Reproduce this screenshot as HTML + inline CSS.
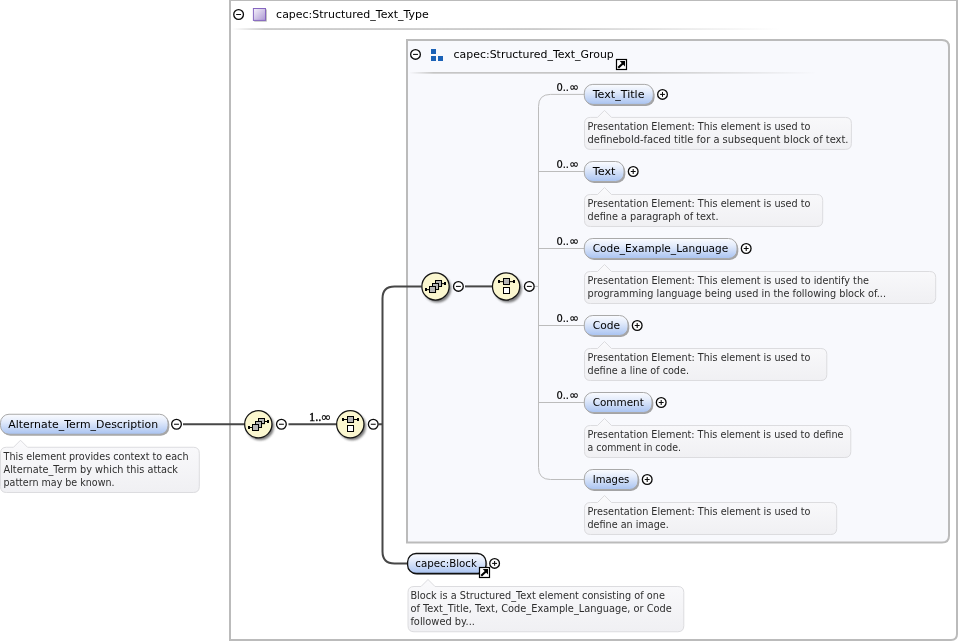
<!DOCTYPE html>
<html><head><meta charset="utf-8"><title>Alternate_Term_Description</title>
<style>html,body{margin:0;padding:0;background:#fff}svg{display:block;will-change:transform}text{white-space:pre}</style>
</head><body>
<svg width="959" height="642" viewBox="0 0 959 642">
<defs>
<linearGradient id="pg" x1="0" y1="0" x2="0" y2="1"><stop offset="0" stop-color="#fbfcff"/><stop offset="0.35" stop-color="#e4ecfb"/><stop offset="1" stop-color="#a9c3f1"/></linearGradient>
<linearGradient id="ag" x1="0" y1="0" x2="0" y2="1"><stop offset="0" stop-color="#fafafc"/><stop offset="1" stop-color="#f0f0f3"/></linearGradient>
<linearGradient id="pu" x1="0" y1="0" x2="1" y2="1"><stop offset="0" stop-color="#f6f3fb"/><stop offset="1" stop-color="#ab97d3"/></linearGradient>
<linearGradient id="s1" x1="0" y1="0" x2="1" y2="0"><stop offset="0" stop-color="#c6c6c6" stop-opacity="0"/><stop offset="0.06" stop-color="#c6c6c6"/><stop offset="0.55" stop-color="#c6c6c6"/><stop offset="1" stop-color="#c6c6c6" stop-opacity="0"/></linearGradient>
<filter id="bs" x="-30%" y="-30%" width="160%" height="160%"><feGaussianBlur stdDeviation="0.7"/></filter>
<filter id="bl" x="-30%" y="-30%" width="160%" height="160%"><feGaussianBlur stdDeviation="1.1"/></filter>
</defs>
<rect width="959" height="642" fill="#fff"/>
<path d="M230 0H957V634Q957 640 951 640H230Z" fill="#fff" stroke="#bbbbbb" stroke-width="2"/>
<circle cx="238.6" cy="14.5" r="4.85" fill="#fff" stroke="#0a0a0a" stroke-width="1.3"/>
<path d="M236.15 14.5H241.04999999999998" stroke="#0a0a0a" stroke-width="1.05"/>
<rect x="254.2" y="9.4" width="12.6" height="12.2" fill="#b4b4b4"/>
<rect x="253.4" y="8.5" width="12.1" height="11.9" fill="url(#pu)" stroke="#8666c0" stroke-width="1"/>
<text x="276.1" y="18" font-family="'DejaVu Sans', 'Liberation Sans', sans-serif" font-size="11" fill="#000" textLength="152.6" lengthAdjust="spacingAndGlyphs">capec:Structured_Text_Type</text>
<rect x="232" y="28.2" width="548" height="1.7" fill="url(#s1)"/>
<path d="M407 40H942Q949 40 949 47V535.5Q949 542.5 942 542.5H407Z" fill="#f8f9fd" stroke="#bbbbbb" stroke-width="2"/>
<circle cx="415.5" cy="54.4" r="4.85" fill="#fff" stroke="#0a0a0a" stroke-width="1.3"/>
<path d="M413.05 54.4H417.95" stroke="#0a0a0a" stroke-width="1.05"/>
<rect x="431" y="49" width="5" height="5" fill="#1b62b7"/>
<rect x="431" y="56" width="5" height="5" fill="#1b62b7"/>
<rect x="438" y="56" width="5" height="5" fill="#1b62b7"/>
<text x="453.6" y="58" font-family="'DejaVu Sans', 'Liberation Sans', sans-serif" font-size="11" fill="#000" textLength="160.2" lengthAdjust="spacingAndGlyphs">capec:Structured_Text_Group</text>
<rect x="616.5" y="59.5" width="10" height="10" fill="#fff" stroke="#000" stroke-width="1.2"/>
<path d="M619.7 61.1H625V66.4Z" fill="#000"/>
<path d="M619.0 67.0L623.4 62.9" stroke="#000" stroke-width="2.1" stroke-linecap="square"/>
<rect x="409" y="72" width="408" height="1.7" fill="url(#s1)"/>
<path d="M183 424.25H244.5M288.5 424.25H337M378.5 424.25H382.5" stroke="#474747" stroke-width="2" fill="none"/>
<path d="M421.5 286.4H394.5Q382.5 286.4 382.5 298.4V551.5Q382.5 563.5 394.5 563.5H407.5" stroke="#474747" stroke-width="2" fill="none"/>
<path d="M465 286.4H492.5" stroke="#474747" stroke-width="2" fill="none"/>
<path d="M534.5 286.4H538.5" stroke="#bcbcbc" stroke-width="1" fill="none"/>
<path d="M584.5 94.4H550.5Q538.5 94.4 538.5 106.4V467.5Q538.5 479.5 550.5 479.5H584.5" stroke="#bcbcbc" stroke-width="1" fill="none"/>
<path d="M538.5 171.5H584.5" stroke="#bcbcbc" stroke-width="1" fill="none"/>
<path d="M538.5 248.5H584.5" stroke="#bcbcbc" stroke-width="1" fill="none"/>
<path d="M538.5 325.5H584.5" stroke="#bcbcbc" stroke-width="1" fill="none"/>
<path d="M538.5 402.5H584.5" stroke="#bcbcbc" stroke-width="1" fill="none"/>
<rect x="1.8" y="415.85" width="167.5" height="20" rx="8.5" fill="#707070" opacity="0.62" filter="url(#bs)"/>
<rect x="0.5" y="414.25" width="167.5" height="20" rx="8.5" fill="url(#pg)" stroke="#a9a9a9" stroke-width="1"/>
<text x="8.3" y="427.95" font-family="'DejaVu Sans', 'Liberation Sans', sans-serif" font-size="11" fill="#000" textLength="149.9" lengthAdjust="spacingAndGlyphs">Alternate_Term_Description</text>
<circle cx="176.5" cy="424.25" r="4.85" fill="#fff" stroke="#0a0a0a" stroke-width="1.3"/>
<path d="M174.05 424.25H178.95" stroke="#0a0a0a" stroke-width="1.05"/>
<path d="M6.5 447.25H13.5L20.5 440.25L27.5 447.25H193.3Q199.3 447.25 199.3 453.25V486.5Q199.3 492.5 193.3 492.5H6.5Q0.5 492.5 0.5 486.5V453.25Q0.5 447.25 6.5 447.25Z" fill="url(#ag)" stroke="#dcdcdf" stroke-width="1"/>
<text x="3.5" y="460.05" font-family="'DejaVu Sans', 'Liberation Sans', sans-serif" font-size="10" fill="#2e2e2e" textLength="185" lengthAdjust="spacingAndGlyphs">This element provides context to each</text>
<text x="3.5" y="473.05" font-family="'DejaVu Sans', 'Liberation Sans', sans-serif" font-size="10" fill="#2e2e2e" textLength="174.5" lengthAdjust="spacingAndGlyphs">Alternate_Term by which this attack</text>
<text x="3.5" y="486.05" font-family="'DejaVu Sans', 'Liberation Sans', sans-serif" font-size="10" fill="#2e2e2e" textLength="111" lengthAdjust="spacingAndGlyphs">pattern may be known.</text>
<circle cx="260.1" cy="426.45" r="13.9" fill="#4a4a4a" opacity="0.72" filter="url(#bl)"/>
<circle cx="258.3" cy="424.25" r="13.65" fill="#fbf7cf" stroke="#141414" stroke-width="1.25"/>
<path d="M249.70 427.50H253.30M264.30 421.50H267.30" stroke="#000" stroke-width="1"/>
<rect x="248.10" y="426.30" width="2" height="2.6" fill="#000" shape-rendering="crispEdges"/>
<rect x="267.20" y="420.20" width="2" height="2.6" fill="#000" shape-rendering="crispEdges"/>
<rect x="259.45" y="419.45" width="5.6" height="5.4" fill="#8a8a6a" opacity="0.35"/>
<rect x="258.65" y="418.55" width="5.6" height="5.4" fill="#b6b6b6" stroke="#000" stroke-width="1" shape-rendering="crispEdges"/>
<rect x="256.50" y="422.60" width="5.6" height="5.4" fill="#8a8a6a" opacity="0.35"/>
<rect x="255.70" y="421.70" width="5.6" height="5.4" fill="#b6b6b6" stroke="#000" stroke-width="1" shape-rendering="crispEdges"/>
<rect x="253.50" y="425.70" width="5.6" height="5.4" fill="#8a8a6a" opacity="0.35"/>
<rect x="252.70" y="424.80" width="5.6" height="5.4" fill="#b6b6b6" stroke="#000" stroke-width="1" shape-rendering="crispEdges"/>
<circle cx="281.4" cy="424.25" r="4.85" fill="#fff" stroke="#0a0a0a" stroke-width="1.3"/>
<path d="M278.95 424.25H283.84999999999997" stroke="#0a0a0a" stroke-width="1.05"/>
<text x="309" y="421" font-family="'Liberation Serif', serif" font-size="12" fill="#000" stroke="#000" stroke-width="0.3" textLength="21.3" lengthAdjust="spacingAndGlyphs">1..∞</text>
<circle cx="352.1" cy="426.45" r="13.9" fill="#4a4a4a" opacity="0.72" filter="url(#bl)"/>
<circle cx="350.3" cy="424.25" r="13.65" fill="#fbf7cf" stroke="#141414" stroke-width="1.25"/>
<path d="M343.30 419.50H357.30" stroke="#000" stroke-width="1"/>
<rect x="342.10" y="418.20" width="2" height="2.6" fill="#000" shape-rendering="crispEdges"/>
<rect x="357.10" y="418.20" width="2" height="2.6" fill="#000" shape-rendering="crispEdges"/>
<rect x="348.45" y="417.70" width="5.75" height="5.35" fill="#8a8a6a" opacity="0.35"/>
<rect x="347.65" y="416.80" width="5.75" height="5.35" fill="#b6b6b6" stroke="#000" stroke-width="1" shape-rendering="crispEdges"/>
<rect x="348.45" y="426.55" width="5.75" height="5.35" fill="#8a8a6a" opacity="0.35"/>
<rect x="347.65" y="425.65" width="5.75" height="5.35" fill="#fff" stroke="#000" stroke-width="1" shape-rendering="crispEdges"/>
<circle cx="373.25" cy="424.25" r="4.85" fill="#fff" stroke="#0a0a0a" stroke-width="1.3"/>
<path d="M370.8 424.25H375.7" stroke="#0a0a0a" stroke-width="1.05"/>
<circle cx="437.3" cy="288.59999999999997" r="13.9" fill="#4a4a4a" opacity="0.72" filter="url(#bl)"/>
<circle cx="435.5" cy="286.4" r="13.65" fill="#fbf7cf" stroke="#141414" stroke-width="1.25"/>
<path d="M426.90 289.65H430.50M441.50 283.65H444.50" stroke="#000" stroke-width="1"/>
<rect x="425.30" y="288.45" width="2" height="2.6" fill="#000" shape-rendering="crispEdges"/>
<rect x="444.40" y="282.35" width="2" height="2.6" fill="#000" shape-rendering="crispEdges"/>
<rect x="436.65" y="281.60" width="5.6" height="5.4" fill="#8a8a6a" opacity="0.35"/>
<rect x="435.85" y="280.70" width="5.6" height="5.4" fill="#b6b6b6" stroke="#000" stroke-width="1" shape-rendering="crispEdges"/>
<rect x="433.70" y="284.75" width="5.6" height="5.4" fill="#8a8a6a" opacity="0.35"/>
<rect x="432.90" y="283.85" width="5.6" height="5.4" fill="#b6b6b6" stroke="#000" stroke-width="1" shape-rendering="crispEdges"/>
<rect x="430.70" y="287.85" width="5.6" height="5.4" fill="#8a8a6a" opacity="0.35"/>
<rect x="429.90" y="286.95" width="5.6" height="5.4" fill="#b6b6b6" stroke="#000" stroke-width="1" shape-rendering="crispEdges"/>
<circle cx="458.4" cy="286.4" r="4.85" fill="#fff" stroke="#0a0a0a" stroke-width="1.3"/>
<path d="M455.95 286.4H460.84999999999997" stroke="#0a0a0a" stroke-width="1.05"/>
<circle cx="507.90000000000003" cy="288.59999999999997" r="13.9" fill="#4a4a4a" opacity="0.72" filter="url(#bl)"/>
<circle cx="506.1" cy="286.4" r="13.65" fill="#fbf7cf" stroke="#141414" stroke-width="1.25"/>
<path d="M499.10 281.65H513.10" stroke="#000" stroke-width="1"/>
<rect x="497.90" y="280.35" width="2" height="2.6" fill="#000" shape-rendering="crispEdges"/>
<rect x="512.90" y="280.35" width="2" height="2.6" fill="#000" shape-rendering="crispEdges"/>
<rect x="504.25" y="279.85" width="5.75" height="5.35" fill="#8a8a6a" opacity="0.35"/>
<rect x="503.45" y="278.95" width="5.75" height="5.35" fill="#b6b6b6" stroke="#000" stroke-width="1" shape-rendering="crispEdges"/>
<rect x="504.25" y="288.70" width="5.75" height="5.35" fill="#8a8a6a" opacity="0.35"/>
<rect x="503.45" y="287.80" width="5.75" height="5.35" fill="#fff" stroke="#000" stroke-width="1" shape-rendering="crispEdges"/>
<circle cx="529.3" cy="286.4" r="4.85" fill="#fff" stroke="#0a0a0a" stroke-width="1.3"/>
<path d="M526.8499999999999 286.4H531.75" stroke="#0a0a0a" stroke-width="1.05"/>
<rect x="585.5999999999999" y="86.0" width="69.0" height="20" rx="8.5" fill="#707070" opacity="0.62" filter="url(#bs)"/>
<rect x="584.3" y="84.4" width="69.0" height="20" rx="8.5" fill="url(#pg)" stroke="#a9a9a9" stroke-width="1"/>
<text x="592.7" y="98.10000000000001" font-family="'DejaVu Sans', 'Liberation Sans', sans-serif" font-size="11" fill="#000" textLength="51.8" lengthAdjust="spacingAndGlyphs">Text_Title</text>
<circle cx="662.5" cy="94.4" r="4.85" fill="#fff" stroke="#0a0a0a" stroke-width="1.3"/>
<path d="M660.05 94.4H664.95" stroke="#0a0a0a" stroke-width="1.05"/>
<path d="M662.5 91.95V96.85000000000001" stroke="#0a0a0a" stroke-width="1.05"/>
<text x="556.4" y="90.80000000000001" font-family="'DejaVu Sans', 'Liberation Sans', sans-serif" font-size="11" fill="#000" stroke="#000" stroke-width="0.2"><tspan textLength="12.6" lengthAdjust="spacingAndGlyphs">0..</tspan><tspan x="569.3" font-size="11.5" textLength="9.4" lengthAdjust="spacingAndGlyphs">∞</tspan></text>
<path d="M590.5 117.4H597.5L604.5 110.4L611.5 117.4H845.4Q851.4 117.4 851.4 123.4V143.4Q851.4 149.4 845.4 149.4H590.5Q584.5 149.4 584.5 143.4V123.4Q584.5 117.4 590.5 117.4Z" fill="url(#ag)" stroke="#dcdcdf" stroke-width="1"/>
<text x="587.5" y="129.6" font-family="'DejaVu Sans', 'Liberation Sans', sans-serif" font-size="10" fill="#2e2e2e" textLength="223" lengthAdjust="spacingAndGlyphs">Presentation Element: This element is used to</text>
<text x="587.5" y="142.6" font-family="'DejaVu Sans', 'Liberation Sans', sans-serif" font-size="10" fill="#2e2e2e" textLength="261" lengthAdjust="spacingAndGlyphs">definebold-faced title for a subsequent block of text.</text>
<rect x="585.5999999999999" y="163.1" width="39.700000000000045" height="20" rx="8.5" fill="#707070" opacity="0.62" filter="url(#bs)"/>
<rect x="584.3" y="161.5" width="39.700000000000045" height="20" rx="8.5" fill="url(#pg)" stroke="#a9a9a9" stroke-width="1"/>
<text x="592.7" y="175.2" font-family="'DejaVu Sans', 'Liberation Sans', sans-serif" font-size="11" fill="#000" textLength="22.8" lengthAdjust="spacingAndGlyphs">Text</text>
<circle cx="633.2" cy="171.5" r="4.85" fill="#fff" stroke="#0a0a0a" stroke-width="1.3"/>
<path d="M630.75 171.5H635.6500000000001" stroke="#0a0a0a" stroke-width="1.05"/>
<path d="M633.2 169.05V173.95" stroke="#0a0a0a" stroke-width="1.05"/>
<text x="556.4" y="167.9" font-family="'DejaVu Sans', 'Liberation Sans', sans-serif" font-size="11" fill="#000" stroke="#000" stroke-width="0.2"><tspan textLength="12.6" lengthAdjust="spacingAndGlyphs">0..</tspan><tspan x="569.3" font-size="11.5" textLength="9.4" lengthAdjust="spacingAndGlyphs">∞</tspan></text>
<path d="M590.5 194.5H597.5L604.5 187.5L611.5 194.5H816.7Q822.7 194.5 822.7 200.5V220.5Q822.7 226.5 816.7 226.5H590.5Q584.5 226.5 584.5 220.5V200.5Q584.5 194.5 590.5 194.5Z" fill="url(#ag)" stroke="#dcdcdf" stroke-width="1"/>
<text x="587.5" y="206.7" font-family="'DejaVu Sans', 'Liberation Sans', sans-serif" font-size="10" fill="#2e2e2e" textLength="223" lengthAdjust="spacingAndGlyphs">Presentation Element: This element is used to</text>
<text x="587.5" y="219.7" font-family="'DejaVu Sans', 'Liberation Sans', sans-serif" font-size="10" fill="#2e2e2e" textLength="131" lengthAdjust="spacingAndGlyphs">define a paragraph of text.</text>
<rect x="585.5999999999999" y="240.1" width="152.70000000000005" height="20" rx="8.5" fill="#707070" opacity="0.62" filter="url(#bs)"/>
<rect x="584.3" y="238.5" width="152.70000000000005" height="20" rx="8.5" fill="url(#pg)" stroke="#a9a9a9" stroke-width="1"/>
<text x="592.7" y="252.2" font-family="'DejaVu Sans', 'Liberation Sans', sans-serif" font-size="11" fill="#000" textLength="135.6" lengthAdjust="spacingAndGlyphs">Code_Example_Language</text>
<circle cx="746.2" cy="248.5" r="4.85" fill="#fff" stroke="#0a0a0a" stroke-width="1.3"/>
<path d="M743.75 248.5H748.6500000000001" stroke="#0a0a0a" stroke-width="1.05"/>
<path d="M746.2 246.05V250.95" stroke="#0a0a0a" stroke-width="1.05"/>
<text x="556.4" y="244.9" font-family="'DejaVu Sans', 'Liberation Sans', sans-serif" font-size="11" fill="#000" stroke="#000" stroke-width="0.2"><tspan textLength="12.6" lengthAdjust="spacingAndGlyphs">0..</tspan><tspan x="569.3" font-size="11.5" textLength="9.4" lengthAdjust="spacingAndGlyphs">∞</tspan></text>
<path d="M590.5 271.5H597.5L604.5 264.5L611.5 271.5H929.7Q935.7 271.5 935.7 277.5V297.5Q935.7 303.5 929.7 303.5H590.5Q584.5 303.5 584.5 297.5V277.5Q584.5 271.5 590.5 271.5Z" fill="url(#ag)" stroke="#dcdcdf" stroke-width="1"/>
<text x="587.5" y="283.7" font-family="'DejaVu Sans', 'Liberation Sans', sans-serif" font-size="10" fill="#2e2e2e" textLength="281.5" lengthAdjust="spacingAndGlyphs">Presentation Element: This element is used to identify the</text>
<text x="587.5" y="296.7" font-family="'DejaVu Sans', 'Liberation Sans', sans-serif" font-size="10" fill="#2e2e2e" textLength="298.5" lengthAdjust="spacingAndGlyphs">programming language being used in the following block of...</text>
<rect x="585.5999999999999" y="317.1" width="43.700000000000045" height="20" rx="8.5" fill="#707070" opacity="0.62" filter="url(#bs)"/>
<rect x="584.3" y="315.5" width="43.700000000000045" height="20" rx="8.5" fill="url(#pg)" stroke="#a9a9a9" stroke-width="1"/>
<text x="592.7" y="329.2" font-family="'DejaVu Sans', 'Liberation Sans', sans-serif" font-size="11" fill="#000" textLength="27.3" lengthAdjust="spacingAndGlyphs">Code</text>
<circle cx="637.2" cy="325.5" r="4.85" fill="#fff" stroke="#0a0a0a" stroke-width="1.3"/>
<path d="M634.75 325.5H639.6500000000001" stroke="#0a0a0a" stroke-width="1.05"/>
<path d="M637.2 323.05V327.95" stroke="#0a0a0a" stroke-width="1.05"/>
<text x="556.4" y="321.9" font-family="'DejaVu Sans', 'Liberation Sans', sans-serif" font-size="11" fill="#000" stroke="#000" stroke-width="0.2"><tspan textLength="12.6" lengthAdjust="spacingAndGlyphs">0..</tspan><tspan x="569.3" font-size="11.5" textLength="9.4" lengthAdjust="spacingAndGlyphs">∞</tspan></text>
<path d="M590.5 348.5H597.5L604.5 341.5L611.5 348.5H820.8Q826.8 348.5 826.8 354.5V374.5Q826.8 380.5 820.8 380.5H590.5Q584.5 380.5 584.5 374.5V354.5Q584.5 348.5 590.5 348.5Z" fill="url(#ag)" stroke="#dcdcdf" stroke-width="1"/>
<text x="587.5" y="360.7" font-family="'DejaVu Sans', 'Liberation Sans', sans-serif" font-size="10" fill="#2e2e2e" textLength="223" lengthAdjust="spacingAndGlyphs">Presentation Element: This element is used to</text>
<text x="587.5" y="373.7" font-family="'DejaVu Sans', 'Liberation Sans', sans-serif" font-size="10" fill="#2e2e2e" textLength="101.5" lengthAdjust="spacingAndGlyphs">define a line of code.</text>
<rect x="585.5999999999999" y="394.1" width="67.70000000000005" height="20" rx="8.5" fill="#707070" opacity="0.62" filter="url(#bs)"/>
<rect x="584.3" y="392.5" width="67.70000000000005" height="20" rx="8.5" fill="url(#pg)" stroke="#a9a9a9" stroke-width="1"/>
<text x="592.7" y="406.2" font-family="'DejaVu Sans', 'Liberation Sans', sans-serif" font-size="11" fill="#000" textLength="51.1" lengthAdjust="spacingAndGlyphs">Comment</text>
<circle cx="661.2" cy="402.5" r="4.85" fill="#fff" stroke="#0a0a0a" stroke-width="1.3"/>
<path d="M658.75 402.5H663.6500000000001" stroke="#0a0a0a" stroke-width="1.05"/>
<path d="M661.2 400.05V404.95" stroke="#0a0a0a" stroke-width="1.05"/>
<text x="556.4" y="398.9" font-family="'DejaVu Sans', 'Liberation Sans', sans-serif" font-size="11" fill="#000" stroke="#000" stroke-width="0.2"><tspan textLength="12.6" lengthAdjust="spacingAndGlyphs">0..</tspan><tspan x="569.3" font-size="11.5" textLength="9.4" lengthAdjust="spacingAndGlyphs">∞</tspan></text>
<path d="M590.5 425.5H597.5L604.5 418.5L611.5 425.5H844.8Q850.8 425.5 850.8 431.5V451.5Q850.8 457.5 844.8 457.5H590.5Q584.5 457.5 584.5 451.5V431.5Q584.5 425.5 590.5 425.5Z" fill="url(#ag)" stroke="#dcdcdf" stroke-width="1"/>
<text x="587.5" y="437.7" font-family="'DejaVu Sans', 'Liberation Sans', sans-serif" font-size="10" fill="#2e2e2e" textLength="256" lengthAdjust="spacingAndGlyphs">Presentation Element: This element is used to define</text>
<text x="587.5" y="450.7" font-family="'DejaVu Sans', 'Liberation Sans', sans-serif" font-size="10" fill="#2e2e2e" textLength="93.5" lengthAdjust="spacingAndGlyphs">a comment in code.</text>
<rect x="585.5999999999999" y="471.1" width="53.700000000000045" height="20" rx="8.5" fill="#707070" opacity="0.62" filter="url(#bs)"/>
<rect x="584.3" y="469.5" width="53.700000000000045" height="20" rx="8.5" fill="url(#pg)" stroke="#a9a9a9" stroke-width="1"/>
<text x="592.7" y="483.2" font-family="'DejaVu Sans', 'Liberation Sans', sans-serif" font-size="11" fill="#000" textLength="36.6" lengthAdjust="spacingAndGlyphs">Images</text>
<circle cx="647.2" cy="479.5" r="4.85" fill="#fff" stroke="#0a0a0a" stroke-width="1.3"/>
<path d="M644.75 479.5H649.6500000000001" stroke="#0a0a0a" stroke-width="1.05"/>
<path d="M647.2 477.05V481.95" stroke="#0a0a0a" stroke-width="1.05"/>
<path d="M590.5 502.5H597.5L604.5 495.5L611.5 502.5H830.7Q836.7 502.5 836.7 508.5V528.5Q836.7 534.5 830.7 534.5H590.5Q584.5 534.5 584.5 528.5V508.5Q584.5 502.5 590.5 502.5Z" fill="url(#ag)" stroke="#dcdcdf" stroke-width="1"/>
<text x="587.5" y="514.7" font-family="'DejaVu Sans', 'Liberation Sans', sans-serif" font-size="10" fill="#2e2e2e" textLength="223" lengthAdjust="spacingAndGlyphs">Presentation Element: This element is used to</text>
<text x="587.5" y="527.7" font-family="'DejaVu Sans', 'Liberation Sans', sans-serif" font-size="10" fill="#2e2e2e" textLength="81.3" lengthAdjust="spacingAndGlyphs">define an image.</text>
<rect x="408.90000000000003" y="555.1" width="78.39999999999998" height="20" rx="8.5" fill="#707070" opacity="0.62" filter="url(#bs)"/>
<rect x="407.6" y="553.5" width="78.39999999999998" height="20" rx="8.5" fill="url(#pg)" stroke="#111" stroke-width="1.3"/>
<text x="415.3" y="567.2" font-family="'DejaVu Sans', 'Liberation Sans', sans-serif" font-size="11" fill="#000" textLength="61.6" lengthAdjust="spacingAndGlyphs">capec:Block</text>
<rect x="479.5" y="567.5" width="10" height="10" fill="#fff" stroke="#000" stroke-width="1.2"/>
<path d="M482.7 569.1H488V574.4Z" fill="#000"/>
<path d="M482.0 575.0L486.4 570.9" stroke="#000" stroke-width="2.1" stroke-linecap="square"/>
<circle cx="494.6" cy="563.4" r="4.85" fill="#fff" stroke="#0a0a0a" stroke-width="1.3"/>
<path d="M492.15000000000003 563.4H497.05" stroke="#0a0a0a" stroke-width="1.05"/>
<path d="M494.6 560.9499999999999V565.85" stroke="#0a0a0a" stroke-width="1.05"/>
<path d="M414 586.5H421L428 579.5L435 586.5H677.8Q683.8 586.5 683.8 592.5V625.75Q683.8 631.75 677.8 631.75H414Q408 631.75 408 625.75V592.5Q408 586.5 414 586.5Z" fill="url(#ag)" stroke="#dcdcdf" stroke-width="1"/>
<text x="410.4" y="598.7" font-family="'DejaVu Sans', 'Liberation Sans', sans-serif" font-size="10" fill="#2e2e2e" textLength="254.5" lengthAdjust="spacingAndGlyphs">Block is a Structured_Text element consisting of one</text>
<text x="410.4" y="611.7" font-family="'DejaVu Sans', 'Liberation Sans', sans-serif" font-size="10" fill="#2e2e2e" textLength="261.5" lengthAdjust="spacingAndGlyphs">of Text_Title, Text, Code_Example_Language, or Code</text>
<text x="410.4" y="624.7" font-family="'DejaVu Sans', 'Liberation Sans', sans-serif" font-size="10" fill="#2e2e2e" textLength="64.5" lengthAdjust="spacingAndGlyphs">followed by...</text>
</svg>
</body></html>
